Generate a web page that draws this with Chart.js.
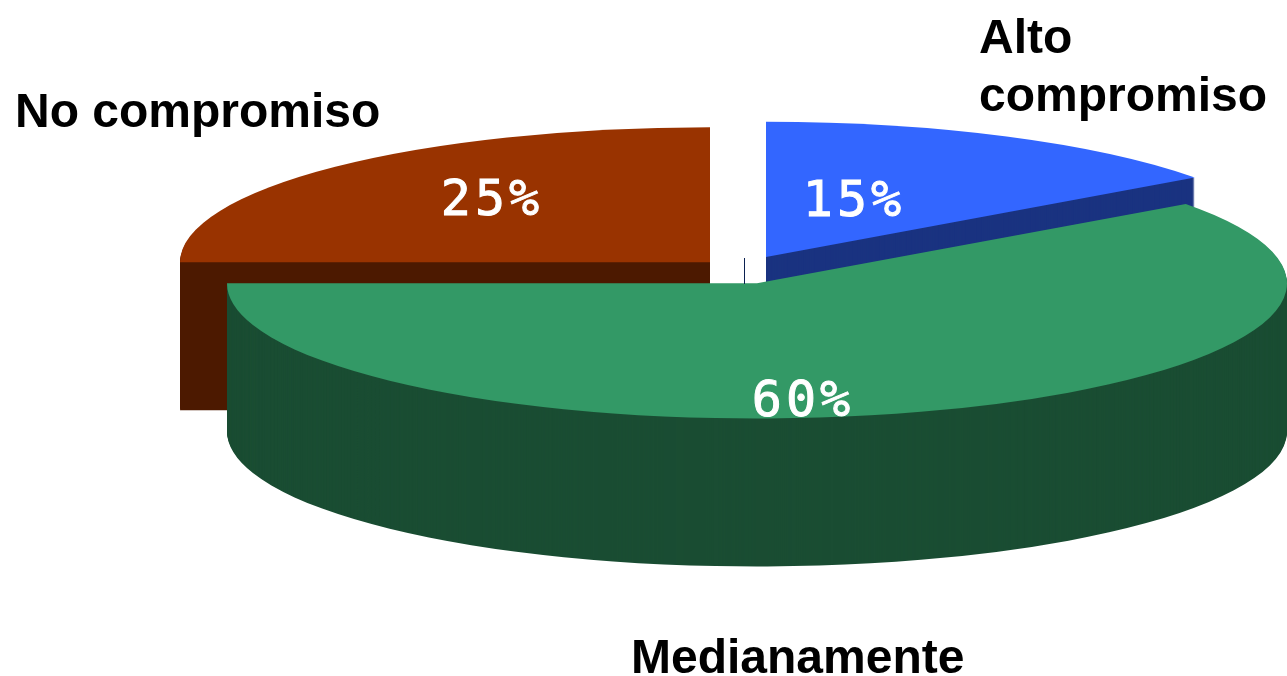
<!DOCTYPE html>
<html>
<head>
<meta charset="utf-8">
<title>Compromiso</title>
<script src="https://cdn.jsdelivr.net/npm/chart.js@4"></script>
<style>
  html, body { margin: 0; padding: 0; background: #fff; overflow: hidden; }
  canvas { display: block; }
</style>
</head>
<body>
<canvas id="pie" width="1287" height="676"></canvas>
<script>
// data
const categories = ['Alto compromiso', 'Medianamente', 'No compromiso'];
const values = [15, 60, 25];

// look of the slices
const topColors = ['#3366ff', '#339966', '#993300'];
const sideColors = ['#1a3380', '#1a4d33', '#4d1a00'];
const explode = [57.27, 55, 42.4]; // how far each slice is pulled out
const paintOrder = [2, 0, 1];      // back to front

// the fake 3d view
const radius = 530;
const squash = 0.255;
const depth = 148;
const pieX = 740;
const pieY = 270;

// outside labels: lines and where they sit
const outerLabels = [
  { lines: ['Alto', 'compromiso'], x: 979, y: 53, lineHeight: 58 },
  { lines: ['Medianamente'], x: 631, y: 673, lineHeight: 58 },
  { lines: ['No compromiso'], x: 15, y: 127, lineHeight: 58 }
];
const valueLabelPos = [[852, 202], [801, 402], [490, 201]];

function drawSlice(ctx, arc, i, color, dy) {
  const mid = (arc.startAngle + arc.endAngle) / 2;
  const saved = arc.options;
  ctx.save();
  ctx.translate(pieX, pieY + dy);
  ctx.scale(1, squash);
  ctx.translate(Math.cos(mid) * explode[i], Math.sin(mid) * explode[i]);
  ctx.translate(-arc.x, -arc.y);
  arc.options = Object.assign({}, saved, { backgroundColor: color, borderWidth: 0 });
  arc.draw(ctx);
  arc.options = saved;
  ctx.restore();
}

// draws the arcs Chart.js laid out, flattened and stacked to get the walls
const pie3d = {
  id: 'pie3d',
  beforeDatasetsDraw(chart) {
    const ctx = chart.ctx;
    const arcs = chart.getDatasetMeta(0).data;
    paintOrder.forEach(i => {
      for (let dy = depth; dy > 0; dy--) {
        drawSlice(ctx, arcs[i], i, sideColors[i], dy);
      }
      drawSlice(ctx, arcs[i], i, topColors[i], 0);
    });
    return false;
  },
  afterDraw(chart) {
    const ctx = chart.ctx;
    ctx.save();

    // stray little line in the gap
    ctx.strokeStyle = '#0a2050';
    ctx.lineWidth = 1;
    ctx.beginPath();
    ctx.moveTo(744.5, 258);
    ctx.lineTo(744.5, 284);
    ctx.stroke();

    ctx.fillStyle = '#000';
    ctx.font = 'bold 48px "Liberation Sans", Arial, sans-serif';
    ctx.textAlign = 'left';
    ctx.textBaseline = 'alphabetic';
    outerLabels.forEach(l => {
      l.lines.forEach((line, n) => ctx.fillText(line, l.x, l.y + n * l.lineHeight));
    });

    ctx.fillStyle = '#fff';
    ctx.strokeStyle = '#fff';
    ctx.lineWidth = 1;
    ctx.font = '50px "DejaVu Sans Mono", monospace';
    ctx.letterSpacing = '4px';
    ctx.textAlign = 'center';
    ctx.textBaseline = 'middle';
    values.forEach((v, i) => {
      const label = v + '%';
      ctx.fillText(label, valueLabelPos[i][0] + 2, valueLabelPos[i][1] + 1);
      ctx.strokeText(label, valueLabelPos[i][0] + 2, valueLabelPos[i][1] + 1);
    });
    ctx.restore();
  }
};

new Chart(document.getElementById('pie').getContext('2d'), {
  type: 'pie',
  data: {
    labels: categories,
    datasets: [{
      data: values,
      backgroundColor: topColors,
      borderWidth: 0,
      radius: radius,
      clip: false
    }]
  },
  options: {
    responsive: false,
    animation: false,
    plugins: {
      legend: { display: false },
      tooltip: { enabled: false }
    }
  },
  plugins: [pie3d]
});
</script>
</body>
</html>
